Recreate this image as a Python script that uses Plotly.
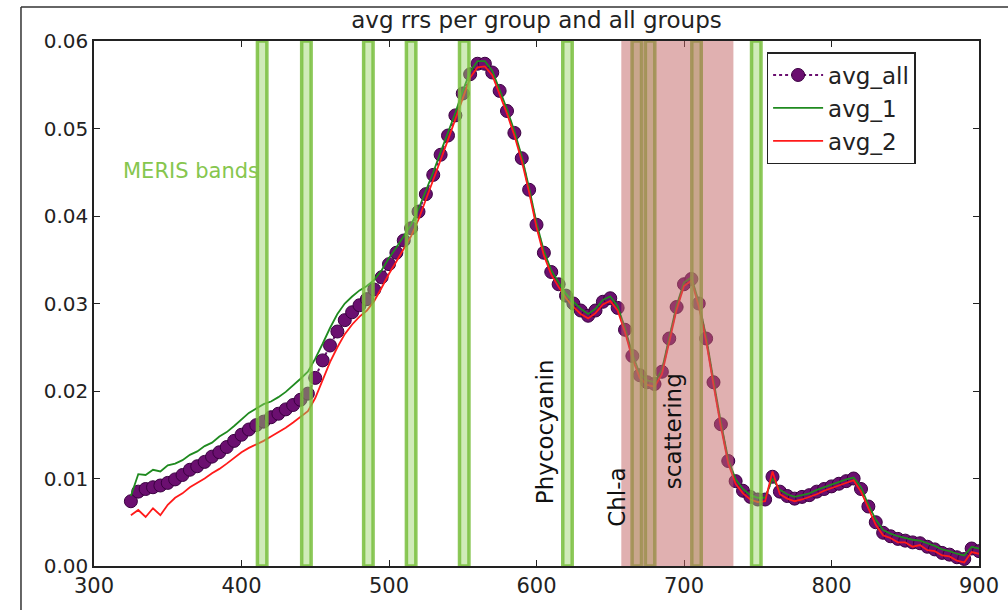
import plotly.graph_objects as go

# ---------------- data ----------------
wavelength = list(range(325, 905, 5))

avg_all = [
    0.0074, 0.0085, 0.0088, 0.0090, 0.0092, 0.0095, 0.0099, 0.0104, 0.0110, 0.0114,
    0.0119, 0.0125, 0.0130, 0.0136, 0.0143, 0.0150, 0.0156, 0.0161, 0.0165, 0.0170,
    0.0174, 0.0179, 0.0184, 0.0190, 0.0197, 0.0215, 0.0235, 0.0252, 0.0268, 0.0281,
    0.0290, 0.0298, 0.0305, 0.0316, 0.0330, 0.0345, 0.0358, 0.0372, 0.0386, 0.0405,
    0.0425, 0.0447, 0.0470, 0.0492,
    0.0515, 0.0540, 0.0562, 0.0574, 0.0574, 0.0564, 0.0543, 0.0520, 0.0495, 0.0466,
    0.0430, 0.0390, 0.0358, 0.0336, 0.0322, 0.0309, 0.0300, 0.0292, 0.0286, 0.0292,
    0.0302, 0.0306, 0.0295, 0.0270, 0.0240, 0.0218, 0.0210, 0.0208, 0.0222, 0.0260,
    0.0296, 0.0322, 0.0328, 0.0300, 0.0260, 0.0210, 0.0162, 0.0120, 0.0097, 0.0086,
    0.0079, 0.0076, 0.0076, 0.0102, 0.0085, 0.0080, 0.0077, 0.0079, 0.0081, 0.0085,
    0.0088, 0.0091, 0.0094, 0.0097, 0.0100, 0.0088, 0.0068, 0.0050, 0.0038, 0.0034,
    0.0031, 0.0029, 0.0027, 0.0026, 0.0022, 0.0019, 0.0015, 0.0013, 0.0010, 0.0008,
    0.0020, 0.0017,
]

avg_1 = [
    0.0080, 0.0105, 0.0104, 0.0110, 0.0108, 0.0115, 0.0117, 0.0121, 0.0127, 0.0131,
    0.0137, 0.0141, 0.0148, 0.0153, 0.0160, 0.0168, 0.0175, 0.0180, 0.0185, 0.0188,
    0.0193, 0.0199, 0.0206, 0.0214, 0.0222, 0.0237, 0.0254, 0.0272, 0.0288, 0.0300,
    0.0308, 0.0315, 0.0320, 0.0327, 0.0338, 0.0352, 0.0364, 0.0377, 0.0390, 0.0408,
    0.0428, 0.0450, 0.0473, 0.0495,
    0.0518, 0.0543, 0.0565, 0.0577, 0.0577, 0.0566, 0.0545, 0.0522, 0.0497, 0.0468,
    0.0432, 0.0392, 0.0360, 0.0338, 0.0324, 0.0311, 0.0302, 0.0294, 0.0288, 0.0294,
    0.0304, 0.0308, 0.0297, 0.0272, 0.0242, 0.0220, 0.0212, 0.0210, 0.0224, 0.0262,
    0.0298, 0.0324, 0.0330, 0.0302, 0.0262, 0.0212, 0.0164, 0.0122, 0.0099, 0.0088,
    0.0081, 0.0078, 0.0078, 0.0100, 0.0087, 0.0082, 0.0079, 0.0081, 0.0083, 0.0087,
    0.0090, 0.0093, 0.0096, 0.0099, 0.0101, 0.0090, 0.0070, 0.0053, 0.0041, 0.0037,
    0.0034, 0.0032, 0.0030, 0.0029, 0.0026, 0.0023, 0.0019, 0.0017, 0.0014, 0.0012,
    0.0022, 0.0020,
]

avg_2 = [
    0.0058, 0.0064, 0.0056, 0.0066, 0.0058, 0.0070, 0.0078, 0.0083, 0.0090, 0.0095,
    0.0100, 0.0106, 0.0111, 0.0117, 0.0124, 0.0130, 0.0135, 0.0139, 0.0143, 0.0148,
    0.0153, 0.0158, 0.0164, 0.0170, 0.0177, 0.0192, 0.0212, 0.0233, 0.0250, 0.0265,
    0.0276, 0.0285, 0.0292, 0.0303, 0.0318, 0.0334, 0.0348, 0.0362, 0.0377, 0.0396,
    0.0418, 0.0440, 0.0464, 0.0487,
    0.0511, 0.0536, 0.0558, 0.0570, 0.0571, 0.0561, 0.0540, 0.0517, 0.0492, 0.0463,
    0.0427, 0.0387, 0.0355, 0.0333, 0.0319, 0.0306, 0.0296, 0.0288, 0.0283, 0.0289,
    0.0299, 0.0303, 0.0292, 0.0267, 0.0237, 0.0215, 0.0207, 0.0205, 0.0219, 0.0257,
    0.0293, 0.0320, 0.0326, 0.0297, 0.0257, 0.0207, 0.0159, 0.0117, 0.0094, 0.0083,
    0.0076, 0.0073, 0.0074, 0.0108, 0.0082, 0.0077, 0.0074, 0.0076, 0.0079, 0.0082,
    0.0086, 0.0089, 0.0092, 0.0095, 0.0098, 0.0085, 0.0065, 0.0047, 0.0035, 0.0032,
    0.0027, 0.0027, 0.0022, 0.0024, 0.0018, 0.0017, 0.0012, 0.0011, 0.0006, 0.0004,
    0.0016, 0.0014,
]

meris_bands = [414, 444, 486, 515, 551, 621, 668, 677, 708.5, 749]
band_halfwidth = 3.2
scatter_span = [657.5, 733.5]

labels = [
    ("Phycocyanin", 605.8, 0.0153),
    ("Chl-a", 654.6, 0.0078),
    ("scattering", 692.5, 0.0154),
]

FONT = "DejaVu Sans"

fig = go.Figure()

fig.add_trace(go.Scatter(
    x=wavelength, y=avg_all, name="avg_all", mode="lines+markers",
    line=dict(color="#6b0f70", width=2, dash="dot"),
    marker=dict(color="#6b0f70", size=13, line=dict(color="#3a0040", width=1)),
))
fig.add_trace(go.Scatter(
    x=wavelength, y=avg_1, name="avg_1", mode="lines",
    line=dict(color="#1f8a1f", width=1.8),
))
fig.add_trace(go.Scatter(
    x=wavelength, y=avg_2, name="avg_2", mode="lines",
    line=dict(color="#ff1a1a", width=1.8),
))
# small dark marker just below the axis
fig.add_trace(go.Scatter(
    x=[650], y=[-0.00065], mode="markers", showlegend=False, cliponaxis=False,
    marker=dict(symbol="square", size=9, color="#1b4a82"), hoverinfo="skip",
))

shapes = []
for b in meris_bands:
    shapes.append(dict(
        type="rect", xref="x", yref="y",
        x0=b - band_halfwidth, x1=b + band_halfwidth, y0=0, y1=0.06,
        line=dict(color="rgba(120,190,60,0.85)", width=3.5),
        fillcolor="rgba(150,210,100,0.45)", layer="above",
    ))
shapes.append(dict(
    type="rect", xref="x", yref="y",
    x0=scatter_span[0], x1=scatter_span[1], y0=0, y1=0.06,
    line=dict(width=0), fillcolor="rgba(193,97,97,0.5)", layer="above",
))
# outer frame of the figure (left and top edges only)
shapes.append(dict(
    type="line", xref="paper", yref="paper",
    x0=-0.0825, x1=-0.0825, y0=-0.1, y1=1.0648,
    line=dict(color="#333333", width=1.5), layer="above",
))
shapes.append(dict(
    type="line", xref="paper", yref="paper",
    x0=-0.0825, x1=1.04, y0=1.0648, y1=1.0648,
    line=dict(color="#333333", width=1.5), layer="above",
))

annotations = [dict(
    text="MERIS bands", x=365.8, y=0.0451, xref="x", yref="y", showarrow=False,
    font=dict(family=FONT, size=21, color="#86c64e"),
)]
for t, xv, yv in labels:
    annotations.append(dict(
        text=t, x=xv, y=yv, xref="x", yref="y", showarrow=False, textangle=-90,
        font=dict(family=FONT, size=23, color="#111111"),
    ))

fig.update_layout(
    width=1008, height=610,
    margin=dict(l=94, r=29, t=41, b=44, autoexpand=False),
    paper_bgcolor="white", plot_bgcolor="white",
    font=dict(family=FONT, size=20, color="#222222"),
    title=dict(text="avg rrs per group and all groups", x=0.5, xref="paper",
               y=1 - 20 / 610, yref="container", yanchor="middle",
               font=dict(family=FONT, size=23, color="#222222")),
    shapes=shapes,
    annotations=annotations,
    legend=dict(x=0.76, y=0.979, xanchor="left", yanchor="top",
                bgcolor="white", bordercolor="#222222", borderwidth=1.5,
                font=dict(family=FONT, size=23, color="#222222"),
                itemwidth=50),
    showlegend=True,
)
fig.update_xaxes(range=[300, 900], dtick=100, tick0=300, automargin=False,
                 showline=True, linecolor="#222222", linewidth=1.5, mirror="ticks",
                 ticks="inside", ticklen=6, tickcolor="#222222",
                 showgrid=False, zeroline=False,
                 tickfont=dict(family=FONT, size=21, color="#222222"))
fig.update_yaxes(range=[0, 0.06], dtick=0.01, tick0=0, tickformat=".2f", automargin=False,
                 showline=True, linecolor="#222222", linewidth=1.5, mirror="ticks",
                 ticks="inside", ticklen=6, tickcolor="#222222",
                 showgrid=False, zeroline=False,
                 tickfont=dict(family=FONT, size=20, color="#222222"))

fig.write_html("out.html", config={"displayModeBar": False},
               post_script="document.body.style.margin='0';document.body.style.overflow='hidden';")
